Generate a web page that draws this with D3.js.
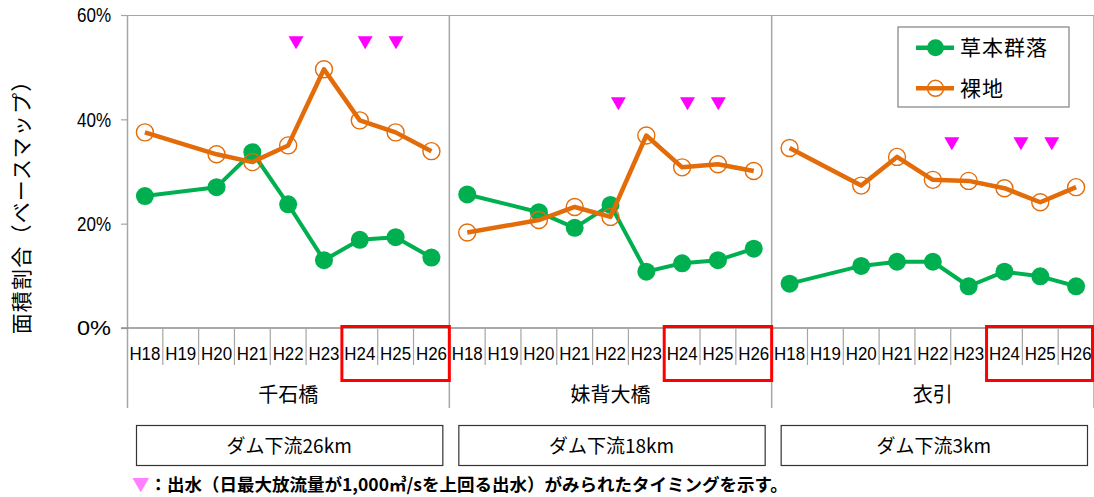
<!DOCTYPE html>
<html><head><meta charset="utf-8">
<script src="https://cdn.jsdelivr.net/npm/d3@7"></script>
<style>
html,body{margin:0;padding:0;background:#fff;}
svg{display:block;}
text{font-family:"Noto Sans CJK JP","Noto Sans",sans-serif;fill:#000;}
</style></head>
<body><svg id="chart" width="1094" height="497"></svg>
<script>
const panels = ["千石橋", "妹背大橋", "衣引"];
const distances = ["ダム下流26km", "ダム下流18km", "ダム下流3km"];
const years = ["H18","H19","H20","H21","H22","H23","H24","H25","H26"];
const yTicks = [0, 20, 40, 60];
const seriesNames = ["草本群落", "裸地"];
// 草本群落 (%), per panel, null = no survey
const grass = [
  [25.3, null, 27.0, 33.7, 23.7, 13.0, 16.9, 17.4, 13.5],
  [25.6, null, 22.2, 19.2, 23.6, 10.8, 12.4, 13.0, 15.2],
  [8.5, null, 11.9, 12.7, 12.7, 8.0, 10.8, 9.9, 8.0]
];
// 裸地 (%)
const bare = [
  [37.5, null, 33.3, 31.8, 35.0, 49.6, 39.8, 37.5, 33.9],
  [18.3, null, 20.7, 23.2, 21.3, 36.9, 30.8, 31.4, 30.1],
  [34.5, null, 27.3, 32.8, 28.4, 28.2, 26.8, 24.1, 27.0]
];
// flood timing markers: position in year-index units, level (%)
const floodPos = [
  [4.22, 6.15, 7.01],
  [4.22, 6.15, 7.01],
  [4.53, 6.46, 7.32]
];
const floodLevel = [54.7, 43.0, 35.3];
const highlightYears = ["H24","H25","H26"];
const footnote = "：出水（日最大放流量が1,000㎥/sを上回る出水）がみられたタイミングを示す。";

const svg = d3.select("#chart");
const L = 127, R = 1094, T = 15, B = 328;
const colG = "#00B050", colO = "#E36C09", gray = "#A6A6A6";

const xP = d3.scaleBand().domain(panels).range([L, R]);
const xY = d3.scaleBand().domain(years).range([0, xP.bandwidth()]);
const y = d3.scaleLinear().domain([0, 60]).range([B, T]);
const cx = (p, i) => xP(panels[p]) + xY.step() * (i + 0.5);

// top border
svg.append("line").attr("x1", L).attr("x2", R).attr("y1", T + 0.5).attr("y2", T + 0.5)
  .attr("stroke", gray).attr("stroke-width", 1.2);

// y axis
const yAxis = svg.append("g").attr("transform", `translate(${L},0)`)
  .call(d3.axisLeft(y).tickValues(yTicks).tickSize(6).tickFormat(d => d + "%"));
yAxis.select(".domain").remove();
yAxis.selectAll(".tick line").attr("stroke", gray).attr("stroke-width", 1.2);
yAxis.selectAll(".tick text").attr("x", -16).attr("dy", "0.34em")
  .style("font-family", "'Liberation Sans',Arial,sans-serif").style("font-size", "20px")
  .attr("textLength", 34).attr("lengthAdjust", "spacingAndGlyphs").attr("fill", "#000");

// left axis line
svg.append("line").attr("x1", L + 0.5).attr("x2", L + 0.5).attr("y1", T).attr("y2", 408)
  .attr("stroke", gray).attr("stroke-width", 1.5);

// panel separators
panels.forEach((p, k) => {
  const xe = xP(p) + xP.bandwidth();
  svg.append("line").attr("x1", xe).attr("x2", xe).attr("y1", T).attr("y2", 408)
    .attr("stroke", gray).attr("stroke-width", 1.5);
});

// x axis baseline
svg.append("line").attr("x1", L - 6).attr("x2", R).attr("y1", B).attr("y2", B)
  .attr("stroke", "#8C8C8C").attr("stroke-width", 1.5);

// category ticks and labels
panels.forEach((p, k) => {
  const g = svg.append("g").attr("transform", `translate(${xP(p)},${B})`);
  const ax = d3.axisBottom(xY).tickSize(0).tickFormat(d => d);
  g.call(ax);
  g.select(".domain").remove();
  g.selectAll(".tick text").attr("y", 32).attr("dy", 0)
    .style("font-family", "'Liberation Sans',Arial,sans-serif").style("font-size", "18px")
    .attr("textLength", 31).attr("lengthAdjust", "spacingAndGlyphs").attr("fill", "#000");
  years.slice(1).forEach(yr => {
    const xx = xY(yr);
    g.append("line").attr("x1", xx).attr("x2", xx).attr("y1", 0).attr("y2", 37)
      .attr("stroke", gray).attr("stroke-width", 1.2);
  });
  // group label
  svg.append("text").attr("x", xP(p) + xP.bandwidth() / 2).attr("y", 402)
    .attr("text-anchor", "middle").style("font-size", "20px").text(p);
  // distance box
  const bx0 = xP(p) + 9, bx1 = xP(p) + xP.bandwidth() - 7;
  svg.append("rect").attr("x", bx0 + 0.5).attr("y", 425.5).attr("width", bx1 - bx0).attr("height", 40)
    .attr("fill", "none").attr("stroke", "#333").attr("stroke-width", 1.2);
  svg.append("text").attr("x", (bx0 + bx1) / 2).attr("y", 453)
    .attr("text-anchor", "middle").style("font-size", "19px").text(distances[k]);
  // red highlight
  const hx0 = xP(p) + xY(highlightYears[0]);
  const hx1 = Math.min(xP(p) + xY(highlightYears[highlightYears.length - 1]) + xY.step(), R - 1.5);
  svg.append("rect").attr("x", hx0).attr("y", 326.5).attr("width", hx1 - hx0).attr("height", 54)
    .attr("fill", "none").attr("stroke", "#FF0000").attr("stroke-width", 3);
});

// series lines
const line = d3.line().x(d => d.x).y(d => y(d.v));
function drawSeries(data, color, filled) {
  data.forEach((arr, p) => {
    const pts = arr.map((v, i) => ({ x: cx(p, i), v })).filter(d => d.v != null);
    svg.append("path").datum(pts).attr("d", line).attr("fill", "none")
      .attr("stroke", color).attr("stroke-width", filled ? 4 : 4.5).attr("stroke-linejoin", "round");
    svg.selectAll(null).data(pts).enter().append("circle")
      .attr("cx", d => d.x).attr("cy", d => y(d.v))
      .attr("r", filled ? 9 : 8.5)
      .attr("fill", filled ? color : "none")
      .attr("stroke", color).attr("stroke-width", filled ? 0 : 1.4);
  });
}
drawSeries(grass, colG, true);
drawSeries(bare, colO, false);

// flood triangles
const tri = (x0, y0) => `M${x0 - 7.5},${y0 - 6.5}L${x0 + 7.5},${y0 - 6.5}L${x0},${y0 + 6.5}Z`;
floodPos.forEach((arr, p) => {
  arr.forEach(pos => {
    svg.append("path").attr("d", tri(cx(p, pos), y(floodLevel[p]))).attr("fill", "#FF00FF");
  });
});

// legend
const lg = svg.append("g");
lg.append("rect").attr("x", 898).attr("y", 27).attr("width", 171).attr("height", 80)
  .attr("fill", "#fff").attr("stroke", "#808080").attr("stroke-width", 1.2);
[[colG, true], [colO, false]].forEach(([c, f], i) => {
  const ly = 47.7 + i * 40.6;
  lg.append("line").attr("x1", 916).attr("x2", 954).attr("y1", ly).attr("y2", ly)
    .attr("stroke", c).attr("stroke-width", 4.5);
  lg.append("circle").attr("cx", 935.5).attr("cy", ly).attr("r", f ? 8.5 : 8)
    .attr("fill", f ? c : "#fff").attr("stroke", c).attr("stroke-width", f ? 0 : 1.4);
  if (!f) lg.append("line").attr("x1", 927).attr("x2", 944).attr("y1", ly).attr("y2", ly)
    .attr("stroke", c).attr("stroke-width", 4.5);
  lg.append("text").attr("x", 960).attr("y", ly + 7.5).style("font-size", "21px")
    .style("letter-spacing", "1px").text(seriesNames[i]);
});

// y title
svg.append("text").attr("transform", "translate(29,202) rotate(-90)")
  .attr("text-anchor", "middle").style("font-size", "21px").style("letter-spacing", "1.2px")
  .text("面積割合（ベースマップ）");

// footnote
const fn = svg.append("text").attr("x", 132).attr("y", 491).style("font-size", "17.5px").style("font-weight", "bold");
fn.append("tspan").attr("fill", "#FF80FF").style("fill", "#FF80FF").text("▼");
fn.append("tspan").text(footnote);
</script></body></html>
